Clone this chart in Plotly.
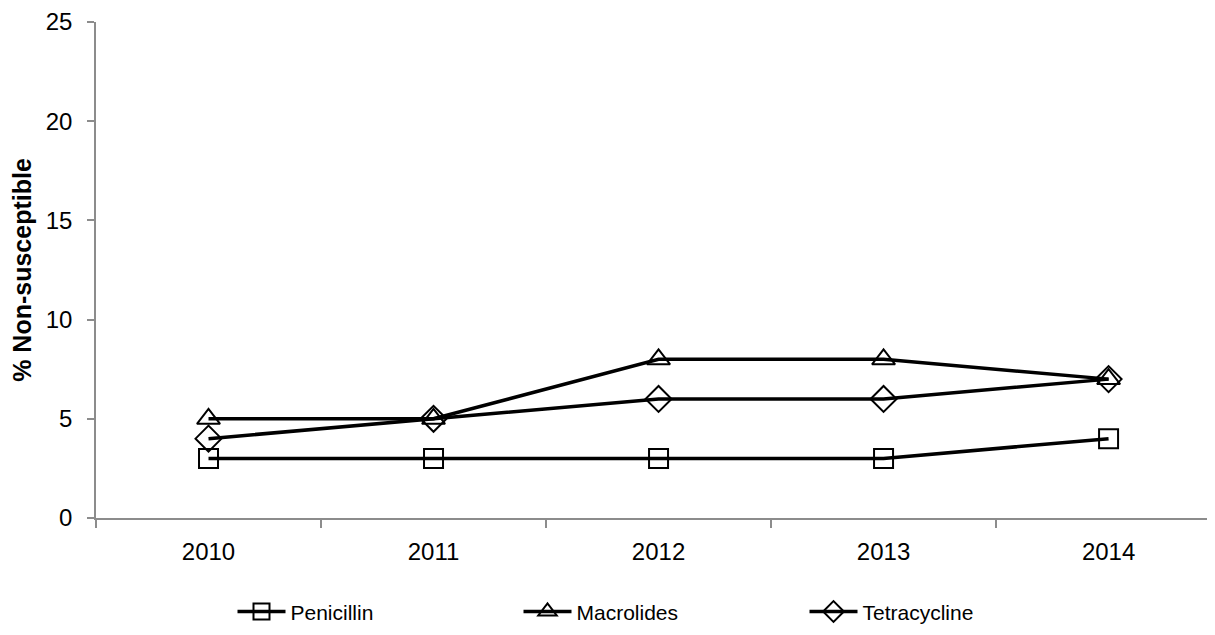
import plotly.graph_objects as go

years = ["2010", "2011", "2012", "2013", "2014"]
penicillin = [3, 3, 3, 3, 4]
macrolides = [5, 5, 8, 8, 7]
tetracycline = [4, 5, 6, 6, 7]
y_ticks = [0, 5, 10, 15, 20, 25]

series = [
    ("Penicillin", penicillin, "square-open", 19),
    ("Macrolides", macrolides, "triangle-up-open", 20),
    ("Tetracycline", tetracycline, "diamond-open", 20),
]

fig = go.Figure()
for name, vals, sym, sz in series:
    fig.add_trace(go.Scatter(
        x=years, y=vals, name=name, mode="lines+markers",
        line=dict(color="black", width=3.5),
        marker=dict(symbol=sym, size=sz,
                    color="black", line=dict(color="black", width=2)),
    ))

axis_grey = "#8c8c8c"
fig.update_layout(
    width=1207, height=627,
    margin=dict(l=88, r=0, t=14, b=117),
    paper_bgcolor="white", plot_bgcolor="white",
    font=dict(family="Arial, Liberation Sans, sans-serif", size=24, color="black"),
    showlegend=True,
    legend=dict(orientation="h", xref="container", yref="container",
                x=0.186, y=0.037, xanchor="left", yanchor="middle",
                entrywidth=223, itemwidth=48, font=dict(size=21),
                bgcolor="rgba(0,0,0,0)"),
    xaxis=dict(type="category", range=[-0.5, 4.473], showline=True,
               linecolor=axis_grey, linewidth=1.5, ticks="outside",
               tickson="boundaries", ticklen=8, tickcolor=axis_grey,
               tickwidth=1.5, showgrid=False, zeroline=False,
               ticklabelstandoff=11),
    yaxis=dict(range=[0, 25], tickvals=y_ticks, showline=True,
               linecolor=axis_grey, linewidth=1.5, ticks="outside",
               ticklen=7, tickcolor=axis_grey, tickwidth=1.5,
               showgrid=False, zeroline=False, ticklabelstandoff=10,
               title=dict(text="<b>% Non-susceptible</b>", standoff=19,
                          font=dict(size=25))),
)

fig.write_html("out.html")
